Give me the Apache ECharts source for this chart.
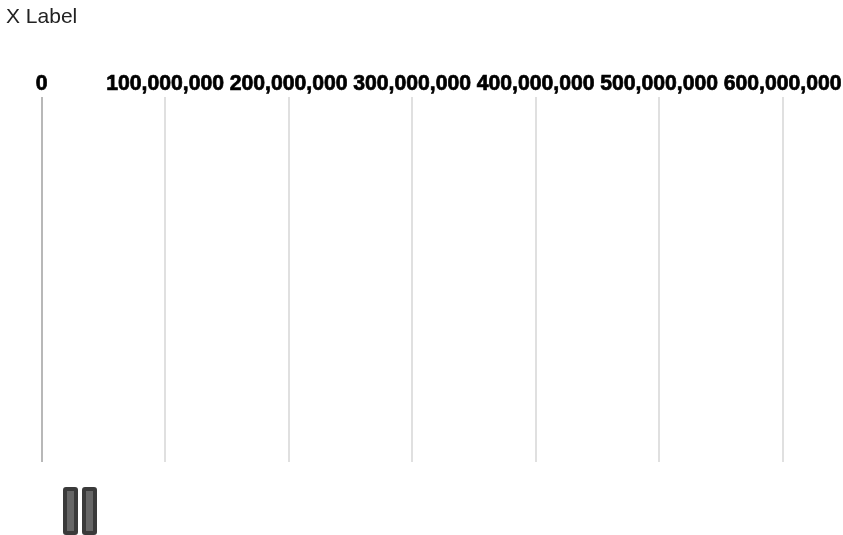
<!DOCTYPE html>
<html>
<head>
<meta charset="utf-8">
<style>html,body{margin:0;padding:0;background:#fff}#c{width:843px;height:535px}</style>
<script src="https://cdn.jsdelivr.net/npm/echarts@6/dist/echarts.min.js"></script>
</head>
<body>
<div id="c"></div>
<script>
const axisTitle = 'X Label';
const axisMin = 0;
const axisMax = 600000000;
const axisStep = 100000000;
const markCategories = ['A', 'B'];
const markValues = [1, 1];

const chart = echarts.init(document.getElementById('c'), null, {renderer: 'canvas'});
chart.setOption({
  animation: false,
  backgroundColor: '#fff',
  title: {
    text: axisTitle, left: 1, top: 2, padding: 5,
    textStyle: {fontFamily: 'Liberation Sans', fontSize: 21, fontWeight: 'normal', color: '#222'}
  },
  grid: [
    {left: 41.6, top: 97, width: 741, height: 365, outerBoundsMode: 'none'},
    {left: 61, top: 487, width: 38, height: 48, outerBoundsMode: 'none'}
  ],
  xAxis: [
    {
      type: 'value', gridIndex: 0, position: 'top',
      min: axisMin, max: axisMax, interval: axisStep,
      axisLine: {show: false}, axisTick: {show: false},
      axisLabel: {
        show: true, margin: 2, color: '#000',
        fontFamily: 'Liberation Sans', fontSize: 21.2, fontWeight: 'bold',
        textBorderColor: '#000', textBorderWidth: 0.7,
        hideOverlap: false, showMinLabel: true, showMaxLabel: true,
        formatter: v => v.toLocaleString('en-US')
      },
      splitLine: {show: true, lineStyle: {color: ['#b8b8b8', '#e0e0e0', '#e0e0e0', '#e0e0e0', '#e0e0e0', '#e0e0e0', '#e0e0e0'], width: 2}}
    },
    {type: 'category', gridIndex: 1, data: markCategories, show: false}
  ],
  yAxis: [
    {type: 'category', gridIndex: 0, data: [''], show: false},
    {type: 'value', gridIndex: 1, min: 0, max: 1, show: false}
  ],
  series: [{
    type: 'bar', xAxisIndex: 1, yAxisIndex: 1,
    data: markValues, barWidth: 15, clip: false,
    itemStyle: {color: '#666666', borderColor: '#3a3a3a', borderWidth: 4, borderRadius: 1}
  }]
});
</script>
</body>
</html>
